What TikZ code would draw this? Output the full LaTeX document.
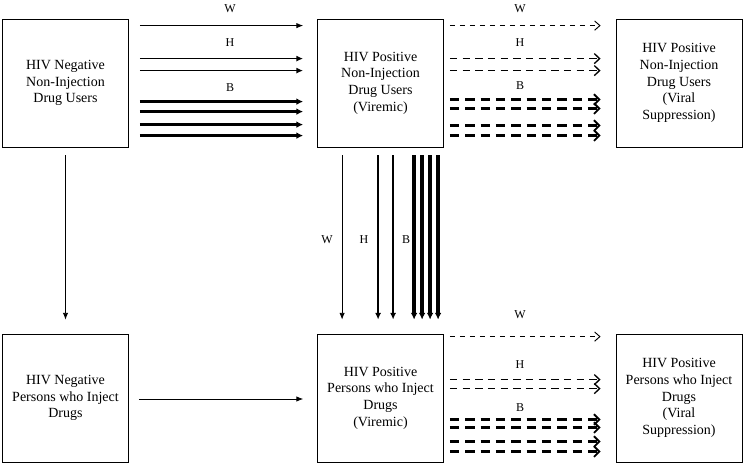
\documentclass[tikz,border=0pt]{standalone}
\usepackage{fontspec}
\setmainfont{Liberation Serif}
\usetikzlibrary{arrows.meta,calc}

\newcommand{\boxfont}{\fontsize{10.5}{12.5}\selectfont}
\newcommand{\lblfont}{\fontsize{9}{10.8}\selectfont}

\tikzset{
  stage/.style={draw, line width=0.6pt, minimum width=94.5pt, minimum height=96pt,
    inner sep=2pt, align=center, font=\boxfont},
  lbl/.style={font=\lblfont},
  wline/.style={line width=0.6pt, -{Latex[length=5pt,width=4pt]}},
  hhline/.style={line width=1.2pt, -{Latex[length=5pt,width=4.5pt]}},
  bbline/.style={line width=2.6pt, -{Latex[length=5pt,width=5pt]}},
  wdash/.style={line width=0.6pt, dash pattern=on 4pt off 3.5pt,
    -{Straight Barb[length=4pt,width=7pt,line width=0.7pt]}},
  hdash/.style={line width=1.3pt, dash pattern=on 5.5pt off 4pt,
    -{Straight Barb[length=4pt,width=7.5pt,line width=1pt]}},
  bdash/.style={line width=2.6pt, dash pattern=on 7pt off 4.5pt,
    -{Straight Barb[length=4pt,width=8pt,line width=1.4pt]}},
}

\begin{document}
\begin{tikzpicture}[x=0.75pt,y=-0.75pt]
  \useasboundingbox (0,0) rectangle (745,466);

  % compartments
  \node[stage] (nin) at (65.5,83) {HIV Negative\\Non-Injection\\Drug Users};
  \node[stage] (pnv) at (380.5,83) {HIV Positive\\Non-Injection\\Drug Users\\(Viremic)};
  \node[stage] (pns) at (679,83) {HIV Positive\\Non-Injection\\Drug Users\\(Viral\\Suppression)};
  \node[stage] (nid) at (65.5,398) {HIV Negative\\Persons who Inject\\Drugs};
  \node[stage] (piv) at (380.5,398) {HIV Positive\\Persons who Inject\\Drugs\\(Viremic)};
  \node[stage] (pis) at (679,398) {HIV Positive\\Persons who Inject\\Drugs\\(Viral\\Suppression)};

  % infection: negative -> viremic (non-injection)
  \draw[wline] ($(nin.north east)+(11,7)$) -- ($(pnv.north west)+(-14,7)$);
  \foreach \dy in {40,52}
    \draw[hhline] ($(nin.north east)+(11,\dy)$) -- ($(pnv.north west)+(-14,\dy)$);
  \foreach \dy in {83,93,106,117}
    \draw[bbline] ($(nin.north east)+(11,\dy)$) -- ($(pnv.north west)+(-14,\dy)$);
  \node[lbl] (w1) at (230,9) {W};
  \node[lbl] (h1) at (230,43) {H};
  \node[lbl] (b1) at (230,88) {B};

  % suppression (non-injection)
  \draw[wdash] ($(pnv.north east)+(6,7)$) -- ($(pns.north west)+(-15,7)$);
  \foreach \dy in {40,52}
    \draw[hdash] ($(pnv.north east)+(6,\dy)$) -- ($(pns.north west)+(-15,\dy)$);
  \foreach \dy in {81,90,107,117}
    \draw[bdash] ($(pnv.north east)+(6,\dy)$) -- ($(pns.north west)+(-15,\dy)$);
  \node[lbl] (w2) at (520,9) {W};
  \node[lbl] (h2) at (520,43) {H};
  \node[lbl] (b2) at (520,86) {B};

  % initiation of injection
  \draw[wline] ($(nin.south)+(0,8)$) -- ($(nid.north)+(0,-14)$);
  \draw[wline] ($(pnv.south west)+(25,8)$) -- ($(piv.north west)+(25,-14)$);
  \foreach \dx in {61,76}
    \draw[hhline] ($(pnv.south west)+(\dx,8)$) -- ($(piv.north west)+(\dx,-14)$);
  \foreach \dx in {97,105,113,121}
    \draw[bbline] ($(pnv.south west)+(\dx,8)$) -- ($(piv.north west)+(\dx,-14)$);
  \node[lbl] (w3) at (327,240) {W};
  \node[lbl] (h3) at (364,240) {H};
  \node[lbl] (b3) at (406,240) {B};

  % infection: negative -> viremic (injection)
  \draw[wline] ($(nid.east)+(10,1)$) -- ($(piv.west)+(-14,1)$);

  % suppression (injection)
  \draw[wdash] ($(piv.north east)+(6,3)$) -- ($(pis.north west)+(-15,3)$);
  \foreach \dy in {46,55}
    \draw[hdash] ($(piv.north east)+(6,\dy)$) -- ($(pis.north west)+(-15,\dy)$);
  \foreach \dy in {86,94,108,118}
    \draw[bdash] ($(piv.north east)+(6,\dy)$) -- ($(pis.north west)+(-15,\dy)$);
  \node[lbl] (w4) at (520,315) {W};
  \node[lbl] (h4) at (520,365) {H};
  \node[lbl] (b4) at (520,408) {B};
\end{tikzpicture}
\end{document}
